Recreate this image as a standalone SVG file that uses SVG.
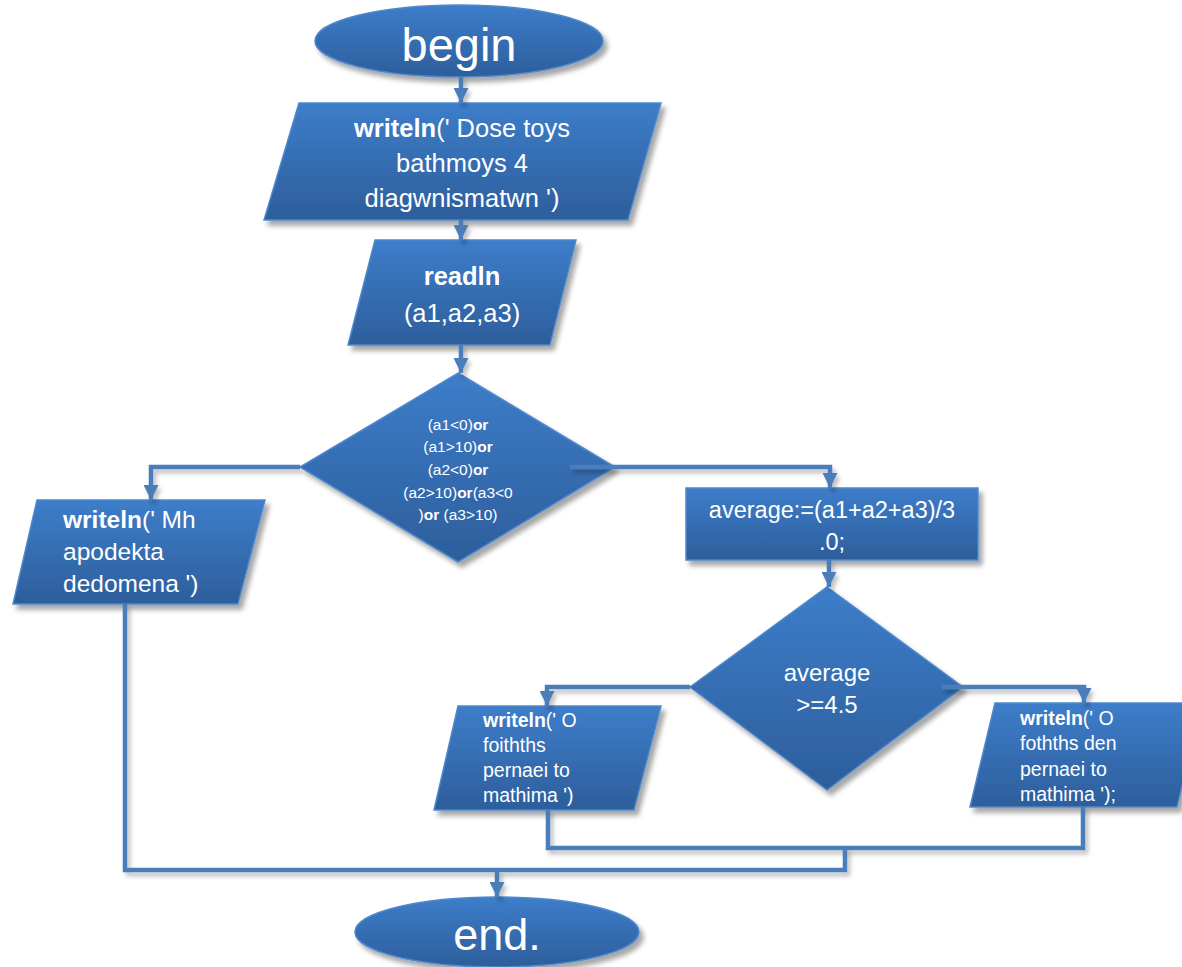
<svg xmlns="http://www.w3.org/2000/svg" width="1182" height="967" viewBox="0 0 1182 967">
<style>
.n{fill:url(#g);stroke:#4f88cc;stroke-width:1.5;filter:url(#sh)}
.t{font-family:"Liberation Sans",Arial,sans-serif;fill:#fff}
.c{text-anchor:middle}
.b{font-weight:bold}
.k{fill:none;stroke:#4a7ebb;stroke-width:4.5;filter:url(#sh2)}
</style>
<defs>
<linearGradient id="g" x1="0" y1="0" x2="0" y2="1">
<stop offset="0" stop-color="#3d7dca"/>
<stop offset="1" stop-color="#2d5e9b"/>
</linearGradient>
<filter id="sh" x="-10%" y="-10%" width="130%" height="130%">
<feDropShadow dx="4" dy="5" stdDeviation="2.5" flood-color="#000" flood-opacity="0.35"/>
</filter>
<filter id="sh2" filterUnits="userSpaceOnUse" x="0" y="0" width="1182" height="967">
<feDropShadow dx="3" dy="4" stdDeviation="2" flood-color="#000" flood-opacity="0.25"/>
</filter>
<marker id="a" viewBox="0 0 10 10" refX="10" refY="5" markerUnits="userSpaceOnUse" markerWidth="15" markerHeight="15" orient="auto">
<path d="M0,0 L10,5 L0,10 z" fill="#4a7ebb"/>
</marker>
</defs>

<g id="begin">
<ellipse class="n" cx="459" cy="41" rx="144" ry="36"/>
<text class="t c" x="459" y="61" font-size="47">begin</text>
</g>

<g id="write1">
<polygon class="n" points="299,103 661,103 628,220 264,220"/>
<text class="t c" font-size="25.5"><tspan x="462" y="137"><tspan class="b">writeln</tspan>(' Dose toys</tspan><tspan x="462" y="172">bathmoys 4</tspan><tspan x="462" y="207">diagwnismatwn ')</tspan></text>
</g>

<g id="readln">
<polygon class="n" points="375,240 576,240 550,345 348,345"/>
<text class="t c" font-size="25.5"><tspan x="462" y="285" class="b">readln</tspan><tspan x="462" y="322">(a1,a2,a3)</tspan></text>
</g>

<g id="cond1">
<polygon class="n" points="458,373 615,467 458,562 300,467"/>
<text class="t c" font-size="15.5"><tspan x="458" y="430">(a1&lt;0)<tspan class="b">or</tspan></tspan><tspan x="458" y="452">(a1&gt;10)<tspan class="b">or</tspan></tspan><tspan x="458" y="475">(a2&lt;0)<tspan class="b">or</tspan></tspan><tspan x="458" y="498">(a2&gt;10)<tspan class="b">or</tspan>(a3&lt;0</tspan><tspan x="458" y="520">)<tspan class="b">or</tspan> (a3&gt;10)</tspan></text>
</g>

<g id="write2">
<polygon class="n" points="37,500 265,500 238,604 13,604"/>
<text class="t" font-size="24.5"><tspan x="63" y="528"><tspan class="b">writeln</tspan>(' Mh</tspan><tspan x="63" y="560">apodekta</tspan><tspan x="63" y="592">dedomena ')</tspan></text>
</g>

<g id="assign">
<rect class="n" x="686" y="488" width="292" height="72"/>
<text class="t c" font-size="23.5"><tspan x="832" y="518">average:=(a1+a2+a3)/3</tspan><tspan x="832" y="550">.0;</tspan></text>
</g>

<g id="cond2">
<polygon class="n" points="827,587 963,687 827,790 690,687"/>
<text class="t c" font-size="24"><tspan x="827" y="681">average</tspan><tspan x="827" y="713">&gt;=4.5</tspan></text>
</g>

<g id="write3">
<polygon class="n" points="458,706 661,706 634,810 434,810"/>
<text class="t" font-size="19.5"><tspan x="483" y="727"><tspan class="b">writeln</tspan>(' O</tspan><tspan x="483" y="752">foithths</tspan><tspan x="483" y="777">pernaei to</tspan><tspan x="483" y="802">mathima ')</tspan></text>
</g>

<g id="write4">
<polygon class="n" points="995,703 1202,703 1177,807 970,807"/>
<text class="t" font-size="19.5"><tspan x="1020" y="725"><tspan class="b">writeln</tspan>(' O</tspan><tspan x="1020" y="750">fothths den</tspan><tspan x="1020" y="776">pernaei to</tspan><tspan x="1020" y="801">mathima ');</tspan></text>
</g>

<g id="end">
<ellipse class="n" cx="497" cy="932" rx="142" ry="35"/>
<text class="t c" x="497" y="950" font-size="45">end.</text>
</g>

<g id="connectors">
<path class="k" d="M461,77 V103" marker-end="url(#a)"/>
<path class="k" d="M461,220 V240" marker-end="url(#a)"/>
<path class="k" d="M461,345 V373" marker-end="url(#a)"/>
<path class="k" d="M300,467 H151 V500" marker-end="url(#a)"/>
<path class="k" d="M570,467 H830 V488" marker-end="url(#a)"/>
<path class="k" d="M829,560 V587" marker-end="url(#a)"/>
<path class="k" d="M690,687 H547 V706" marker-end="url(#a)"/>
<path class="k" d="M942,687 H1084 V703" marker-end="url(#a)"/>
<path class="k" d="M548,810 V848 H1083 V807"/>
<path class="k" d="M125,604 V870 H845 V848"/>
<path class="k" d="M497,870 V897" marker-end="url(#a)"/>
</g>
</svg>
